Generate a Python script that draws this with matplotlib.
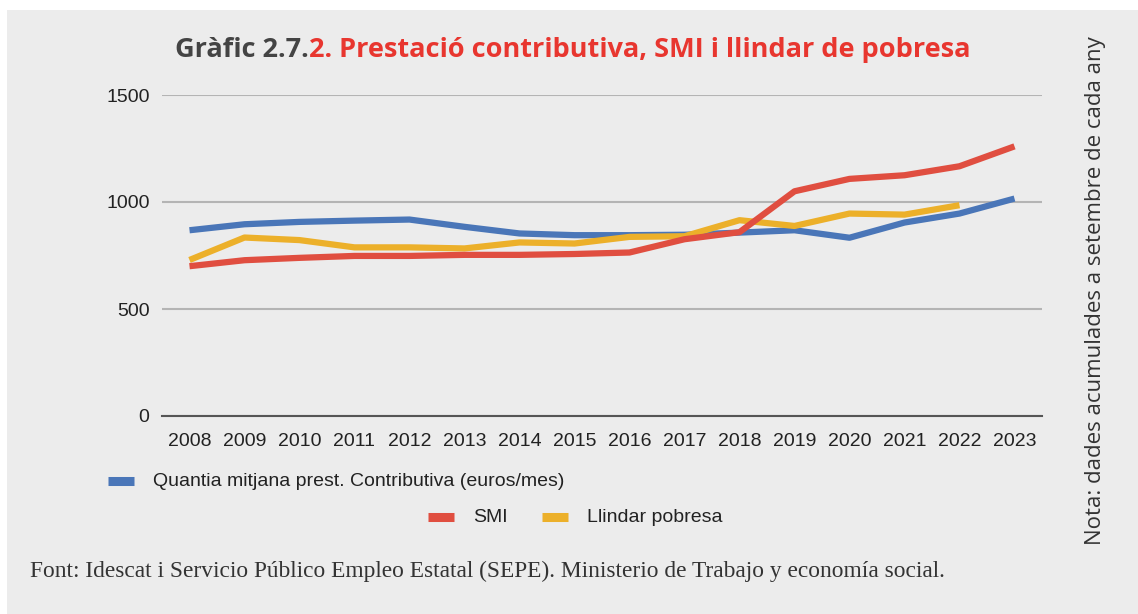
import matplotlib.pyplot as plt
from matplotlib.lines import Line2D

years = [str(y) for y in range(2008, 2024)]
quantia = [868, 896, 907, 913, 918, 884, 853, 845, 845, 847, 857, 868, 833, 904, 946, 1016]
smi = [700, 728, 739, 748, 748, 753, 753, 757, 764, 826, 859, 1050, 1108, 1125, 1167, 1260]
llindar = [729, 834, 822, 788, 788, 783, 811, 806, 837, 840, 915, 888, 946, 941, 985]

blue = '#4a76b8'
red = '#e04e40'
yellow = '#ecb02a'
bg = '#ececec'

W, H = 1138, 614
fig = plt.figure(figsize=(W / 100, H / 100), dpi=100)
fig.patch.set_facecolor('white')
# grey panel behind everything
fig.patches.append(plt.Rectangle((7 / W, 0), 1, 1 - 10 / H, transform=fig.transFigure,
                                 facecolor=bg, edgecolor='none', zorder=-10))

ax = fig.add_axes([162 / W, 1 - 416 / H, 880 / W, 321 / H])
ax.set_facecolor(bg)
x = list(range(len(years)))
ax.plot(x, quantia, color=blue, lw=4.5, solid_capstyle='butt', zorder=3)
ax.plot(x, smi, color=red, lw=4.5, solid_capstyle='butt', zorder=4)
ax.plot(x[:len(llindar)], llindar, color=yellow, lw=4.5, solid_capstyle='butt', zorder=3)

ax.set_xlim(-0.5, len(years) - 0.5)
ax.set_ylim(0, 1500)
ax.set_yticks([0, 500, 1000, 1500])
ax.set_xticks(x)
ax.set_xticklabels(years)
ax.grid(axis='y', color='#b4b4b4', lw=1.5)
ax.set_axisbelow(True)
for s in ['top', 'right', 'left']:
    ax.spines[s].set_visible(False)
ax.spines['bottom'].set_color('#555555')
ax.spines['bottom'].set_linewidth(1.5)
ax.tick_params(length=0, labelsize=14, colors='#222222')
ax.tick_params(axis='x', pad=12)
ax.tick_params(axis='y', pad=9)
for lab in ax.get_xticklabels() + ax.get_yticklabels():
    lab.set_fontfamily('Liberation Sans')

# title in two colours
t1 = fig.text(175 / W, 1 - 57 / H, 'Gràfic 2.7.', fontsize=19.5, fontweight='bold',
              color='#444444', family='Open Sans', va='baseline')
fig.canvas.draw()
bb = t1.get_window_extent()
fig.text(bb.x1 / W, 1 - 57 / H, '2. Prestació contributiva, SMI i llindar de pobresa',
         fontsize=19.5, fontweight='bold', color='#e8362f', family='Open Sans', va='baseline')

# legend
def legend_item(x0, y0, color, label):
    fig.add_artist(Line2D([x0 / W, (x0 + 26) / W], [1 - y0 / H, 1 - y0 / H],
                          color=color, lw=6.5, solid_capstyle='butt', transform=fig.transFigure))
    fig.text((x0 + 45) / W, 1 - y0 / H, label, fontsize=14, family='Liberation Sans',
             color='#222222', va='center')

legend_item(108, 481, blue, 'Quantia mitjana prest. Contributiva (euros/mes)')
legend_item(428, 517, red, 'SMI')
legend_item(542, 517, yellow, 'Llindar pobresa')

fig.text(30 / W, 1 - 571 / H,
         'Font: Idescat i Servicio Público Empleo Estatal (SEPE). Ministerio de Trabajo y economía social.',
         fontsize=16.8, family='Liberation Serif', color='#333333', va='center')

fig.text(1095 / W, 1 - 291 / H, 'Nota: dades acumulades a setembre de cada any',
         rotation=90, fontsize=16, family='Open Sans', color='#333333',
         ha='center', va='center')

fig.savefig('out.png', dpi=100, facecolor=fig.get_facecolor())
